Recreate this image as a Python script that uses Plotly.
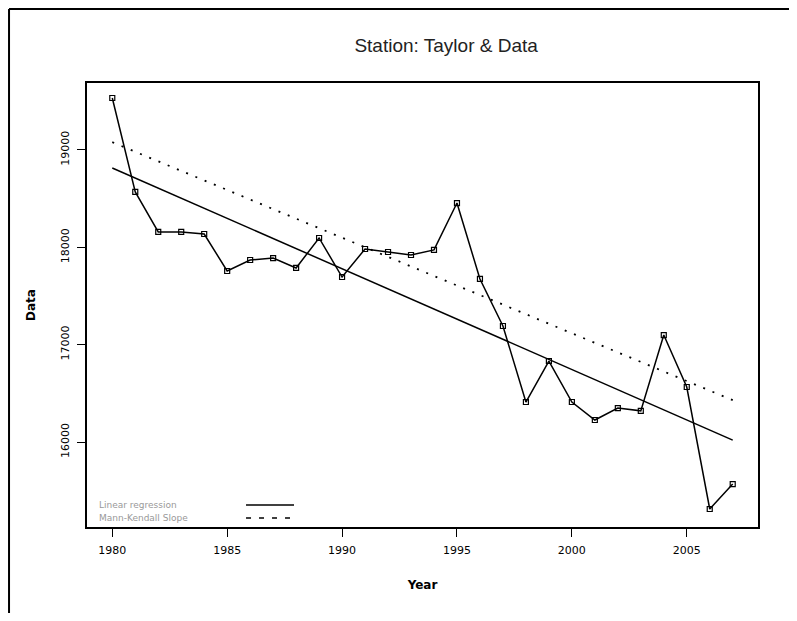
import plotly.graph_objects as go

# annual values
years = list(range(1980, 2008))
values = [19534, 18569, 18158, 18158, 18137, 17757, 17870, 17890, 17788, 18096,
          17695, 17983, 17952, 17921, 17973, 18455, 17675, 17192, 16411, 16832,
          16411, 16226, 16349, 16320, 17099, 16565, 15312, 15568]

# trend lines (end points)
trend_years = [1980, 2007]
linear_reg = [18815, 16020]
mann_kendall = [19080, 16430]

x_ticks = [1980, 1985, 1990, 1995, 2000, 2005]
y_ticks = [16000, 17000, 18000, 19000]

fig = go.Figure()

fig.add_trace(go.Scatter(x=trend_years, y=linear_reg, mode="lines",
                         line=dict(color="black", width=1.5), showlegend=False))
fig.add_trace(go.Scatter(x=trend_years, y=mann_kendall, mode="lines",
                         line=dict(color="black", width=1.8, dash="2px,8px"), showlegend=False))
fig.add_trace(go.Scatter(x=years, y=values, mode="lines+markers",
                         line=dict(color="black", width=1.5),
                         marker=dict(symbol="square-open", size=5, color="black",
                                     line=dict(width=1.2)),
                         showlegend=False))

tick_font = dict(family="DejaVu Sans", size=11, color="black")

# the page body adds 8px around the figure, so the figure is a bit smaller
fig.update_layout(
    width=781, height=605,
    margin=dict(l=79, r=31, t=75, b=86),
    paper_bgcolor="white", plot_bgcolor="white",
    title=dict(text="Station: Taylor & Data", x=0.561, xanchor="center",
               y=0.939, yanchor="middle",
               font=dict(family="Liberation Sans", size=19, color="#222")),
    xaxis=dict(range=[1978.9, 2008.1], tickvals=x_ticks, ticks="outside", ticklen=8,
               tickcolor="black", showgrid=False, zeroline=False, showline=True,
               linecolor="black", linewidth=2, mirror=True, tickfont=tick_font,
               ticklabelstandoff=4,
               title=dict(text="<b>Year</b>", standoff=24,
                          font=dict(family="DejaVu Sans", size=12, color="black"))),
    yaxis=dict(range=[15127, 19688], tickvals=y_ticks, tickformat="d",
               ticks="outside", ticklen=8,
               tickcolor="black", showgrid=False, zeroline=False, showline=True,
               linecolor="black", linewidth=2, mirror=True, tickangle=-90,
               tickfont=tick_font, ticklabelstandoff=4,
               title=dict(text="<b>Data</b>", standoff=20,
                          font=dict(family="DejaVu Sans", size=12, color="black"))),
)

# legend drawn by hand, in the lower left corner of the plot
fig.add_annotation(x=0.015, y=0.0495, xref="paper", yref="paper", xanchor="left",
                   yanchor="middle",
                   text="Linear regression", showarrow=False,
                   font=dict(family="DejaVu Sans", size=9, color="#999"))
fig.add_annotation(x=0.015, y=0.0203, xref="paper", yref="paper", xanchor="left",
                   yanchor="middle",
                   text="Mann-Kendall Slope", showarrow=False,
                   font=dict(family="DejaVu Sans", size=9, color="#999"))
fig.add_shape(type="line", xref="paper", yref="paper", x0=0.237, x1=0.3085,
              y0=0.0495, y1=0.0495, line=dict(color="black", width=1.5))
fig.add_shape(type="line", xref="paper", yref="paper", x0=0.237, x1=0.3085,
              y0=0.0203, y1=0.0203, line=dict(color="black", width=1.5, dash="5px,8px"))

# outer frame (left and top edges), kept just inside the figure
fig.add_shape(type="line", xref="paper", yref="paper", x0=-0.1162, x1=-0.1162,
              y0=1.1667, y1=-0.25, line=dict(color="black", width=2))
fig.add_shape(type="line", xref="paper", yref="paper", x0=-0.1162, x1=1.06,
              y0=1.1667, y1=1.1667, line=dict(color="black", width=2))

fig.write_html("out.html")
